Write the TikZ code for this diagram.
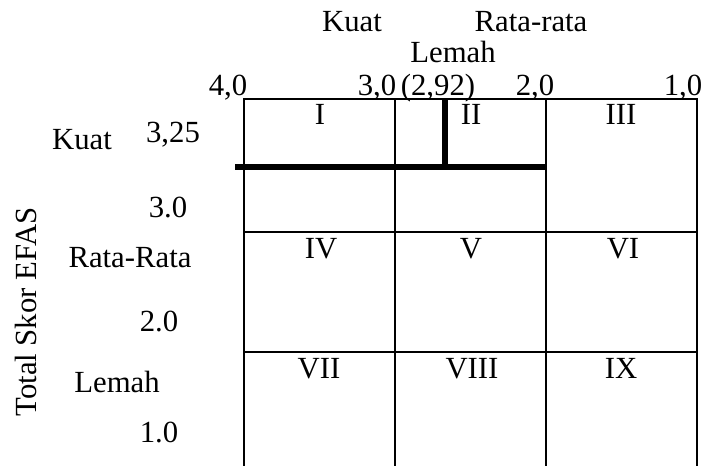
\documentclass[tikz,border=0pt]{standalone}
\usepackage{fontspec}
\setmainfont{Liberation Serif}
\usetikzlibrary{positioning}

\begin{document}
\begin{tikzpicture}[
  x=0.02cm, y=-0.02cm,
  garis/.style={line width=1.5pt},
  batas/.style={line width=3.3pt},
  teks/.style={font=\fontsize{17.5}{20}\selectfont, anchor=base, inner sep=0pt},
  sel/.style={teks}
]
\useasboundingbox (0,0) rectangle (704,466);

% kisi matriks IE
\draw[garis] (244,466) -- (244,99) -- (697,99) -- (697,466);
\draw[garis] (395,99) -- (395,466);
\draw[garis] (546,99) -- (546,466);
\draw[garis] (244,232) -- (697,232);
\draw[garis] (244,352) -- (697,352);

% posisi perusahaan
\coordinate (hkiri) at (235,167);
\coordinate (hkanan) at (546,167);
\coordinate (vatas) at (445,99);
\coordinate (vbawah) at (445,167);
\draw[batas] (hkiri) -- (hkanan);
\draw[batas] (vatas) -- (vbawah);

% sumbu IFAS
\node[teks] (kuat) at (352,32) {Kuat};
\node[teks] (rata) at (531,32) {Rata-rata};
\node[teks] (lemah) at (453,63) {Lemah};
\node[teks] (x40) at (228,96) {4,0};
\node[teks] (x30) at (377,96) {3,0};
\node[teks] (x292) at (438,96) {(2,92)};
\node[teks] (x20) at (535,96) {2,0};
\node[teks] (x10) at (683,96) {1,0};

% sumbu EFAS
\node[teks] (kuat2) at (82,150) {Kuat};
\node[teks] (y325) at (173,143) {3,25};
\node[teks] (y30) at (168,217) {3.0};
\node[teks] (rata2) at (130,268) {Rata-Rata};
\node[teks] (y20) at (159,332) {2.0};
\node[teks] (lemah2) at (117,392) {Lemah};
\node[teks] (y10) at (159,442) {1.0};
\node[teks, anchor=center, rotate=90] (efas) at (26,312) {Total Skor EFAS};

% sel
\node[sel] (s1) at (320,125) {I};
\node[sel] (s2) at (471,125) {II};
\node[sel] (s3) at (621,125) {III};
\node[sel] (s4) at (321,258) {IV};
\node[sel] (s5) at (471,258) {V};
\node[sel] (s6) at (623,258) {VI};
\node[sel] (s7) at (319,378) {VII};
\node[sel] (s8) at (472,378) {VIII};
\node[sel] (s9) at (621,378) {IX};

\end{tikzpicture}
\end{document}
